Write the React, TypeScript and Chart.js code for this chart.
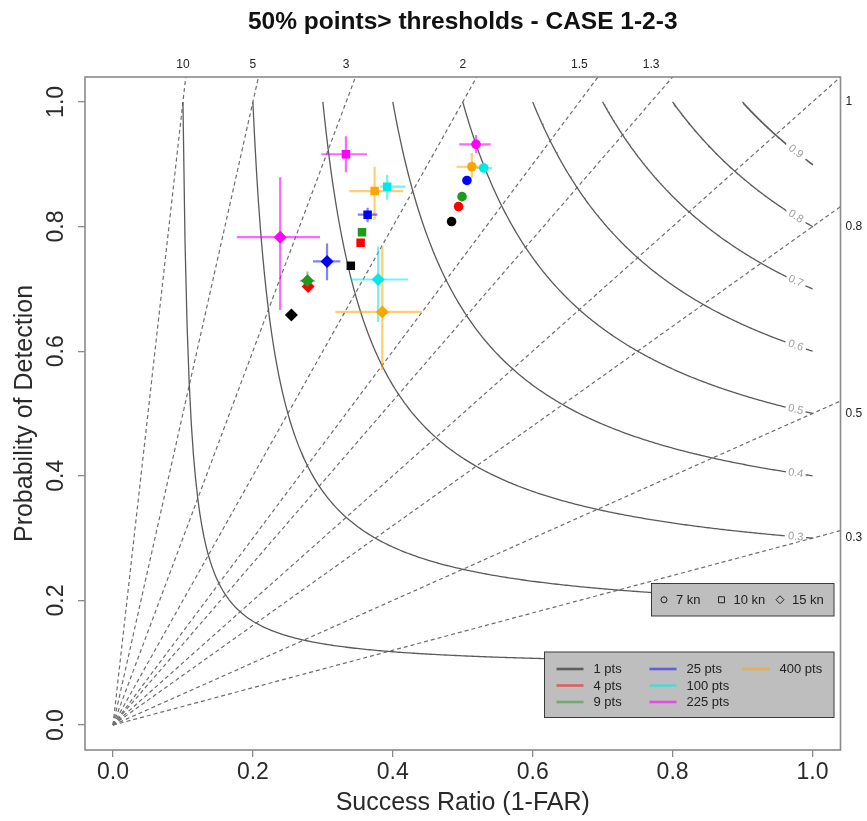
import React, { useEffect, useRef } from 'react';
import { Chart, registerables } from 'chart.js';

Chart.register(...registerables);

// ---------- text ----------
const TITLE = '50% points> thresholds - CASE 1-2-3';
const X_TITLE = 'Success Ratio (1-FAR)';
const Y_TITLE = 'Probability of Detection';

// ---------- axes / reference lines ----------
const AXIS_TICKS = [0, 0.2, 0.4, 0.6, 0.8, 1.0];
const TOP_BIAS = [10, 5, 3, 2, 1.5, 1.3];
const RIGHT_BIAS = [1, 0.8, 0.5, 0.3];
const BIAS_LINES = [0.3, 0.5, 0.8, 1, 1.3, 1.5, 2, 3, 5, 10];
const CSI_LEVELS = [0.1, 0.2, 0.3, 0.4, 0.5, 0.6, 0.7, 0.8, 0.9];

// ---------- series ----------
const SERIES = ['1 pts', '4 pts', '9 pts', '25 pts', '100 pts', '225 pts', '400 pts'];
const COLORS = ['#000000', '#ff0000', '#1f9a1f', '#0000ff', '#00e8e8', '#ff00ff', '#ffa500'];
const BAR_COLORS = [
  'rgba(0,0,0,0.5)', 'rgba(255,0,0,0.5)', 'rgba(31,154,31,0.5)', 'rgba(0,0,255,0.5)',
  'rgba(0,232,232,0.55)', 'rgba(255,0,255,0.6)', 'rgba(255,165,0,0.55)',
];
const THRESHOLDS = ['7 kn', '10 kn', '15 kn'];
const MARKERS = ['circle', 'rect', 'rectRot'];

// 7 kn (circles)          1pts   4pts   9pts   25pts  100pts 225pts 400pts
const SR_7KN = [0.484, 0.494, 0.499, 0.506, 0.530, 0.519, 0.513];
const POD_7KN = [0.808, 0.832, 0.848, 0.874, 0.894, 0.932, 0.896];
const SR_LO_7KN = [null, null, null, null, 0.520, 0.495, 0.491];
const SR_HI_7KN = [null, null, null, null, 0.542, 0.540, 0.527];
const POD_LO_7KN = [null, null, null, null, 0.886, 0.918, 0.878];
const POD_HI_7KN = [null, null, null, null, 0.902, 0.947, 0.918];

// 10 kn (squares)
const SR_10KN = [0.340, 0.354, 0.356, 0.364, 0.392, 0.333, 0.374];
const POD_10KN = [0.737, 0.774, 0.791, 0.819, 0.864, 0.916, 0.857];
const SR_LO_10KN = [null, null, null, 0.350, 0.382, 0.298, 0.338];
const SR_HI_10KN = [null, null, null, 0.378, 0.418, 0.363, 0.415];
const POD_LO_10KN = [null, null, null, 0.807, 0.843, 0.887, 0.811];
const POD_HI_10KN = [null, null, null, 0.830, 0.883, 0.945, 0.896];

// 15 kn (diamonds)
const SR_15KN = [0.255, 0.279, 0.278, 0.306, 0.379, 0.239, 0.385];
const POD_15KN = [0.658, 0.704, 0.713, 0.744, 0.715, 0.783, 0.663];
const SR_LO_15KN = [null, null, 0.267, 0.286, 0.339, 0.177, 0.318];
const SR_HI_15KN = [null, null, 0.289, 0.325, 0.422, 0.296, 0.441];
const POD_LO_15KN = [null, null, 0.698, 0.714, 0.647, 0.666, 0.570];
const POD_HI_15KN = [null, null, 0.728, 0.773, 0.768, 0.879, 0.768];

const SR_BY_T = [SR_7KN, SR_10KN, SR_15KN];
const POD_BY_T = [POD_7KN, POD_10KN, POD_15KN];
const SRLO_BY_T = [SR_LO_7KN, SR_LO_10KN, SR_LO_15KN];
const SRHI_BY_T = [SR_HI_7KN, SR_HI_10KN, SR_HI_15KN];
const PODLO_BY_T = [POD_LO_7KN, POD_LO_10KN, POD_LO_15KN];
const PODHI_BY_T = [POD_HI_7KN, POD_HI_10KN, POD_HI_15KN];

const FONT = "'Liberation Sans', Arial, Helvetica, sans-serif";
const LABEL_SR = 0.976;
const GAP = 0.014;

function csiPod(c: number, sr: number) {
  return 1 / (1 / c + 1 - 1 / sr);
}

function buildDatasets() {
  const ds: any[] = [];
  // CSI isolines
  CSI_LEVELS.forEach((c) => {
    const pts: any[] = [];
    let gapAdded = false;
    const n = 300;
    for (let i = 0; i <= n; i++) {
      const sr = c + ((1 - c) * i) / n;
      if (sr > LABEL_SR - GAP && sr < LABEL_SR + GAP) {
        if (!gapAdded) { pts.push({ x: sr, y: null }); gapAdded = true; }
        continue;
      }
      pts.push({ x: sr, y: csiPod(c, sr) });
    }
    ds.push({
      data: pts, showLine: true, pointRadius: 0, borderColor: '#5a5a5a', borderWidth: 1.3,
      spanGaps: false, order: 1000, tension: 0,
    });
  });
  // bias lines
  BIAS_LINES.forEach((b) => {
    const end = b <= 1 ? { x: 1.04, y: 1.04 * b } : { x: 1.04 / b, y: 1.04 };
    ds.push({
      data: [{ x: 0, y: 0 }, end], showLine: true, pointRadius: 0, borderColor: '#6e6e6e',
      borderWidth: 1.2, borderDash: [4, 3], order: 1001,
    });
  });
  // error bars
  SERIES.forEach((_, i) => {
    const pts: any[] = [];
    for (let t = 0; t < 3; t++) {
      const lo = SRLO_BY_T[t][i], hi = SRHI_BY_T[t][i];
      const plo = PODLO_BY_T[t][i], phi = PODHI_BY_T[t][i];
      const sr = SR_BY_T[t][i], pod = POD_BY_T[t][i];
      if (lo != null && hi != null) {
        pts.push({ x: lo, y: pod }, { x: hi, y: pod }, { x: hi, y: null });
      }
      if (plo != null && phi != null) {
        pts.push({ x: sr, y: plo }, { x: sr, y: phi }, { x: sr, y: null });
      }
    }
    ds.push({
      data: pts, showLine: true, pointRadius: 0, borderColor: BAR_COLORS[i], borderWidth: 2.2,
      spanGaps: false, order: 500,
    });
  });
  // points
  SERIES.forEach((name, i) => {
    ds.push({
      label: name,
      data: [0, 1, 2].map((t) => ({ x: SR_BY_T[t][i], y: POD_BY_T[t][i] })),
      showLine: false,
      pointStyle: MARKERS,
      pointRadius: [4.8, 6, 6.5],
      backgroundColor: COLORS[i],
      borderColor: COLORS[i],
      borderWidth: 0,
      order: 100 - i,
    });
  });
  return ds;
}

const decorPlugin = {
  id: 'decor',
  afterDatasetsDraw(chart: any) {
    const { ctx, chartArea: a, scales } = chart;
    const xs = scales.x, ys = scales.y;
    ctx.save();
    // CSI labels
    ctx.fillStyle = '#a0a0a0';
    ctx.font = `11px ${FONT}`;
    ctx.textAlign = 'center';
    ctx.textBaseline = 'middle';
    CSI_LEVELS.forEach((c) => {
      const px = xs.getPixelForValue(LABEL_SR);
      const py = ys.getPixelForValue(csiPod(c, LABEL_SR));
      const x1 = xs.getPixelForValue(LABEL_SR - 0.005), y1 = ys.getPixelForValue(csiPod(c, LABEL_SR - 0.005));
      const x2 = xs.getPixelForValue(LABEL_SR + 0.005), y2 = ys.getPixelForValue(csiPod(c, LABEL_SR + 0.005));
      const ang = Math.atan2(y2 - y1, x2 - x1);
      ctx.save();
      ctx.translate(px, py);
      ctx.rotate(ang);
      ctx.fillText(String(c), 0, 0);
      ctx.restore();
    });
    // frame
    ctx.strokeStyle = '#8a8a8a';
    ctx.lineWidth = 1.6;
    ctx.strokeRect(a.left, a.top, a.right - a.left, a.bottom - a.top);
    // bias labels
    ctx.fillStyle = '#222';
    ctx.font = `12px ${FONT}`;
    ctx.textAlign = 'center';
    ctx.textBaseline = 'middle';
    TOP_BIAS.forEach((b) => {
      ctx.fillText(String(b), xs.getPixelForValue(1 / b), a.top - 12);
    });
    ctx.textAlign = 'left';
    RIGHT_BIAS.forEach((b) => {
      ctx.fillText(String(b), a.right + 5, ys.getPixelForValue(b));
    });
    ctx.restore();
  },
  afterDraw(chart: any) {
    const { ctx, chartArea: a } = chart;
    ctx.save();
    // threshold legend
    const r1 = { l: a.right - 189, t: 583.5, r: a.right - 6.5, b: 616 };
    ctx.fillStyle = '#bebebe';
    ctx.fillRect(r1.l, r1.t, r1.r - r1.l, r1.b - r1.t);
    ctx.strokeStyle = '#3a3a3a';
    ctx.lineWidth = 1;
    ctx.strokeRect(r1.l, r1.t, r1.r - r1.l, r1.b - r1.t);
    const cy = (r1.t + r1.b) / 2;
    const symX = [r1.l + 12.5, r1.l + 70, r1.l + 128.5];
    ctx.font = `13px ${FONT}`;
    ctx.textBaseline = 'middle';
    ctx.textAlign = 'left';
    THRESHOLDS.forEach((lab, k) => {
      const sx = symX[k];
      ctx.strokeStyle = '#222';
      ctx.lineWidth = 1;
      ctx.beginPath();
      if (MARKERS[k] === 'circle') ctx.arc(sx, cy, 3, 0, Math.PI * 2);
      else if (MARKERS[k] === 'rect') ctx.rect(sx - 3, cy - 3, 6, 6);
      else { ctx.moveTo(sx, cy - 4); ctx.lineTo(sx + 4, cy); ctx.lineTo(sx, cy + 4); ctx.lineTo(sx - 4, cy); ctx.closePath(); }
      ctx.stroke();
      ctx.fillStyle = '#222';
      ctx.fillText(lab, sx + 12, cy + 0.5);
    });
    // size legend
    const r2 = { l: a.right - 296, t: 652, r: a.right - 6.5, b: 717.5 };
    ctx.fillStyle = '#bebebe';
    ctx.fillRect(r2.l, r2.t, r2.r - r2.l, r2.b - r2.t);
    ctx.strokeStyle = '#3a3a3a';
    ctx.strokeRect(r2.l, r2.t, r2.r - r2.l, r2.b - r2.t);
    const rowY = [r2.t + 17, r2.t + 33.5, r2.t + 50];
    const colX = [r2.l + 12, r2.l + 105, r2.l + 198];
    SERIES.forEach((lab, i) => {
      const col = Math.floor(i / 3), row = i % 3;
      const x0 = colX[col], y0 = rowY[row];
      ctx.strokeStyle = BAR_COLORS[i];
      ctx.lineWidth = 2.6;
      ctx.beginPath();
      ctx.moveTo(x0, y0);
      ctx.lineTo(x0 + 27, y0);
      ctx.stroke();
      ctx.fillStyle = '#222';
      ctx.fillText(lab, x0 + 37, y0 + 0.5);
    });
    ctx.restore();
  },
};

export default function App() {
  const ref = useRef<HTMLCanvasElement | null>(null);
  useEffect(() => {
    if (!ref.current) return;
    const tickFont = { family: FONT, size: 23, lineHeight: 1.2 };
    const titleFont = { family: FONT, size: 25, lineHeight: 1.2 };
    const chart = new Chart(ref.current, {
      type: 'scatter',
      data: { datasets: buildDatasets() },
      plugins: [decorPlugin],
      options: {
        animation: false,
        responsive: false,
        events: [],
        layout: { padding: { top: 0, left: 0, right: 26.5, bottom: 0 } },
        plugins: {
          legend: { display: false },
          tooltip: { enabled: false },
          title: {
            display: true,
            text: TITLE,
            fullSize: false,
            color: '#111',
            font: { family: FONT, size: 24.5, weight: 'bold', lineHeight: 1.2 },
            padding: { top: 7.8, bottom: 39.8 },
          },
        },
        scales: {
          x: {
            type: 'linear',
            min: -0.04,
            max: 1.04,
            afterBuildTicks: (s: any) => { s.ticks = AXIS_TICKS.map((v) => ({ value: v })); },
            afterFit: (s: any) => { s.height = 71; },
            ticks: {
              callback: (v: any) => Number(v).toFixed(1),
              font: tickFont, color: '#2a2a2a', padding: 2.2, maxRotation: 0, autoSkip: false,
            },
            grid: { drawOnChartArea: false, drawTicks: true, tickLength: 7, color: '#8a8a8a', lineWidth: 1.3 },
            border: { display: false },
            title: { display: true, text: X_TITLE, color: '#2a2a2a', font: titleFont, padding: { top: 0, bottom: 3 } },
          },
          y: {
            type: 'linear',
            min: -0.04,
            max: 1.04,
            afterBuildTicks: (s: any) => { s.ticks = AXIS_TICKS.map((v) => ({ value: v })); },
            afterFit: (s: any) => { s.width = 85; },
            ticks: {
              callback: (v: any) => Number(v).toFixed(1),
              font: tickFont, color: '#2a2a2a', padding: 5.3, minRotation: 90, maxRotation: 90,
              crossAlign: 'center', autoSkip: false,
            },
            grid: { drawOnChartArea: false, drawTicks: true, tickLength: 7, color: '#8a8a8a', lineWidth: 1.3 },
            border: { display: false },
            title: { display: true, text: Y_TITLE, color: '#2a2a2a', font: titleFont, padding: { top: 10, bottom: 0 } },
          },
        },
      } as any,
    });
    return () => chart.destroy();
  }, []);
  return (
    <div style={{ position: 'absolute', left: 0, top: 0, width: 867, height: 821, background: '#fff' }}>
      <canvas ref={ref} width={867} height={821} style={{ width: 867, height: 821 }} />
    </div>
  );
}
